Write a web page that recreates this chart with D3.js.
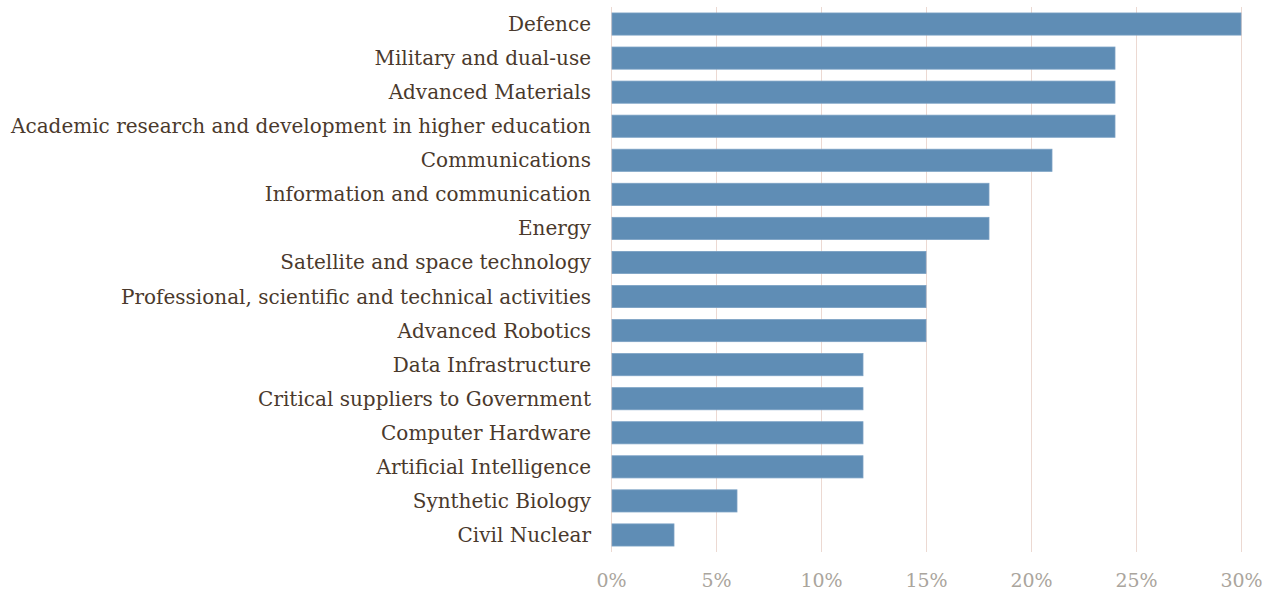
<!DOCTYPE html>
<html>
<head>
<meta charset="utf-8">
<script src="https://cdn.jsdelivr.net/npm/d3@7"></script>
<style>
  body { margin: 0; background: #fff; }
  svg text { font-family: Georgia, "DejaVu Serif", "Liberation Serif", serif; }
</style>
</head>
<body>
<div id="chart"></div>
<script>
// Data
const categories = [
    "Defence",
    "Military and dual-use",
    "Advanced Materials",
    "Academic research and development in higher education",
    "Communications",
    "Information and communication",
    "Energy",
    "Satellite and space technology",
    "Professional, scientific and technical activities",
    "Advanced Robotics",
    "Data Infrastructure",
    "Critical suppliers to Government",
    "Computer Hardware",
    "Artificial Intelligence",
    "Synthetic Biology",
    "Civil Nuclear"
];
const values = [30, 24, 24, 24, 21, 18, 18, 15, 15, 15, 12, 12, 12, 12, 6, 3];
const tickValues = [0, 5, 10, 15, 20, 25, 30];

// Constants
const width = 1275;
const height = 593;
const plotLeft = 611;
const plotRight = 1241;
const plotTop = 7;
const plotBottom = 552;

const svg = d3.select('#chart')
    .append('svg').attr('width', width).attr('height', height);

const x = d3.scaleLinear()
    .domain([0, 30])
    .range([plotLeft, plotRight]);

const y = d3.scaleBand()
    .domain(categories)
    .range([plotTop, plotBottom])
    .paddingInner(0.35)
    .paddingOuter(0.175);

// gridlines
svg.append('g')
    .selectAll('line')
    .data(tickValues)
    .join('line')
    .attr('x1', d => x(d) + 0.5)
    .attr('x2', d => x(d) + 0.5)
    .attr('y1', plotTop)
    .attr('y2', plotBottom)
    .attr('stroke', '#ecd9d2')
    .attr('stroke-width', 1);

// bars
svg.append('g')
    .selectAll('rect')
    .data(values)
    .join('rect')
    .attr('x', x(0) + 1)
    .attr('y', (d, i) => y(categories[i]))
    .attr('width', d => x(d) - x(0) - 1)
    .attr('height', y.bandwidth())
    .attr('fill', '#5f8db5')
    .attr('stroke', '#7aa1c4')
    .attr('stroke-width', 0.8);

// category labels
svg.append('g')
    .selectAll('text')
    .data(categories)
    .join('text')
    .attr('x', 591)
    .attr('y', d => y(d) + y.bandwidth() / 2)
    .attr('dy', '0.35em')
    .attr('text-anchor', 'end')
    .attr('fill', '#4a392c')
    .attr('font-size', 20)
    .text(d => d);

// x axis labels
const xAxis = d3.axisBottom(x)
    .tickValues(tickValues)
    .tickSize(0)
    .tickPadding(0)
    .tickFormat(d => d + '%');

svg.append('g')
    .attr('transform', `translate(0,${plotBottom + 21})`)
    .call(xAxis)
    .call(g => g.select('.domain').remove())
    .call(g => g.selectAll('text')
        .attr('fill', '#aaa59d')
        .attr('font-size', 19)
        .attr('font-family', 'Georgia, "DejaVu Serif", "Liberation Serif", serif'));
</script>
</body>
</html>
